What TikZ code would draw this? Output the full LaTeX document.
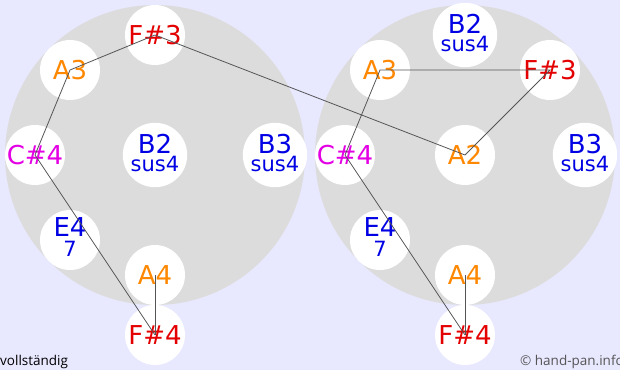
\documentclass[tikz,border=0pt]{standalone}
\usepackage{fontspec}
\setmainfont{DejaVu Sans}
\newfontfamily\notefont{Open Sans}
\usetikzlibrary{positioning}
\usepackage{xcolor}
\definecolor{bglilac}{RGB}{232,232,255}
\definecolor{pangray}{RGB}{220,220,220}
\definecolor{notered}{RGB}{228,0,0}
\definecolor{noteorange}{RGB}{255,136,0}
\definecolor{notemagenta}{RGB}{228,0,228}
\definecolor{noteblue}{RGB}{0,0,228}
\definecolor{walkgray}{RGB}{85,85,85}
\newcommand{\subl}[1]{{\fontsize{21}{17}\selectfont #1}\rule[-5pt]{0pt}{5pt}}

\begin{document}
\begin{tikzpicture}[x=1pt,y=-1pt,
  pan/.style={circle,fill=pangray,minimum size=300pt,inner sep=0pt},
  tone/.style={circle,fill=white,minimum size=60pt,inner sep=0pt,align=center,font=\fontsize{26}{20}\selectfont},
  walk/.style={walkgray,line width=0.8pt}]
\fill[bglilac] (0,0) rectangle (620,370);
\useasboundingbox (0,0) rectangle (620,370);
\node[pan] (lpan) at (155,155) {};
\node[pan] (rpan) at (465,155) {};
% left pan
\node[tone,text=notered]    (lFs3) at (155,35)  {F\#3};
\node[tone,text=noteorange] (lA3)  at (70,70)   {A3};
\node[tone,text=notemagenta](lCs4) at (35,155)  {C\#4};
\node[tone,text=noteblue]   (lB2)  at (155,155) {B2\\[-2pt]\subl{sus4}};
\node[tone,text=noteblue]   (lB3)  at (275,155) {B3\\[-2pt]\subl{sus4}};
\node[tone,text=noteblue]   (lE4)  at (70,240)  {E4\\\subl{7}};
\node[tone,text=noteorange] (lA4)  at (155,275) {A4};
\node[tone,text=notered]    (lFs4) at (155,335) {F\#4};
% right pan
\node[tone,text=noteblue]   (rB2)  at (465,35)  {B2\\[-2pt]\subl{sus4}};
\node[tone,text=noteorange] (rA3)  at (380,70)  {A3};
\node[tone,text=notered]    (rFs3) at (550,70)  {F\#3};
\node[tone,text=notemagenta](rCs4) at (345,155) {C\#4};
\node[tone,text=noteorange] (rA2)  at (465,155) {A2};
\node[tone,text=noteblue]   (rB3)  at (585,155) {B3\\[-2pt]\subl{sus4}};
\node[tone,text=noteblue]   (rE4)  at (380,240) {E4\\\subl{7}};
\node[tone,text=noteorange] (rA4)  at (465,275) {A4};
\node[tone,text=notered]    (rFs4) at (465,335) {F\#4};
\draw[walk] (lFs4.center) -- (lCs4.center) -- (lA3.center) -- (lFs3.center) -- (rA2.center) -- (rFs3.center) -- (rA3.center) -- (rCs4.center) -- (rFs4.center);
\draw[walk] (lA4.center) -- (lFs4.center);
\draw[walk] (rA4.center) -- (rFs4.center);
\node[anchor=base west,inner sep=0pt,font=\notefont\fontsize{13.5}{15}\selectfont] (full) at (0,365) {vollständig};
\node[anchor=base west,inner sep=0pt,text=walkgray,font=\notefont\fontsize{13.5}{15}\selectfont] (copy) at (520,365) {© hand-pan.info};
\end{tikzpicture}
\end{document}
